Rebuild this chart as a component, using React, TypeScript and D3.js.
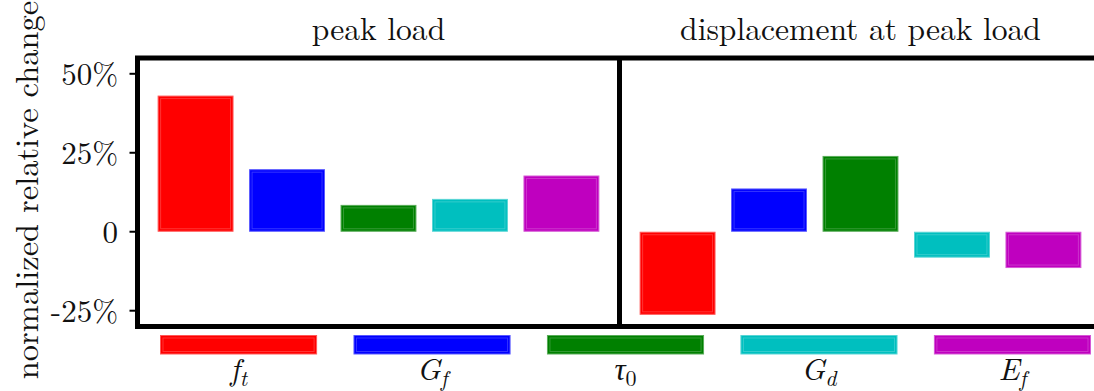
import { scaleBand, scaleLinear, color } from "d3";

const WIDTH = 1094;
const HEIGHT = 391;

// parameters varied in the study
const params = ["ft", "Gf", "tau0", "Gd", "Ef"];
const paramBase = ["f", "G", "τ", "G", "E"];
const paramSub = ["t", "f", "0", "d", "f"];
const paramColors = ["#ff0000", "#0000ff", "#008000", "#00bfbf", "#bf00bf"];

// normalized relative change in %
const peakLoad = [43.1, 19.8, 8.5, 10.4, 17.8];
const dispAtPeakLoad = [-26.3, 13.7, 24.0, -8.2, -11.5];

const panelTitles = ["peak load", "displacement at peak load"];

const yTicks = [-25, 0, 25, 50];
const yTickLabels = ["-25%", "0", "25%", "50%"];

const FONT = "Latin Modern Roman, Liberation Serif, serif";

const left = 137.5;
const mid = 619.5;
const right = 1101.5;
const top = 58;
const bottom = 326.5;

const yScale = scaleLinear().domain([-30, 55]).range([bottom, top]);

const panelRanges: [number, number][] = [
  [left, mid],
  [mid, right],
];
const panelValues = [peakLoad, dispAtPeakLoad];

const keyScale = scaleBand<string>()
  .domain(params)
  .range([160, 1091])
  .paddingInner(0.188)
  .paddingOuter(0);

const lighter = (c: string, k: number) => {
  const col = color(c)!.rgb();
  col.r = col.r + (255 - col.r) * k;
  col.g = col.g + (255 - col.g) * k;
  col.b = col.b + (255 - col.b) * k;
  return col.formatRgb();
};

const Bar = ({ x, y, w, h, fill }: { x: number; y: number; w: number; h: number; fill: string }) => (
  <g>
    <rect
      x={x + 0.5}
      y={y + 0.5}
      width={Math.max(0, w - 1)}
      height={Math.max(0, h - 1)}
      fill={fill}
      stroke={lighter(fill, 0.35)}
      strokeWidth={1}
    />
    {w > 8 && h > 8 && (
      <rect
        x={x + 3}
        y={y + 3}
        width={w - 6}
        height={h - 6}
        fill="none"
        stroke={lighter(fill, 0.2)}
        strokeWidth={1}
      />
    )}
  </g>
);

const App = () => {
  const textStyle = { fontFamily: FONT };

  return (
    <svg
      width={WIDTH}
      height={HEIGHT}
      style={{ position: "absolute", left: 0, top: 0, background: "#fff" }}
    >
      {panelRanges.map((range, pi) => {
        const xScale = scaleBand<string>()
          .domain(params)
          .range(range)
          .paddingInner(0.17)
          .paddingOuter(0.22);
        return (
          <g key={pi}>
            {params.map((k, i) => {
              const v = panelValues[pi][i];
              const y0 = yScale(Math.max(0, v));
              const y1 = yScale(Math.min(0, v));
              return (
                <Bar key={k} x={xScale(k)!} y={y0} w={xScale.bandwidth()} h={y1 - y0} fill={paramColors[i]} />
              );
            })}
            <text
              x={(range[0] + range[1]) / 2}
              y={40}
              textAnchor="middle"
              fontSize={31.6}
              fill="#111"
              style={textStyle}
            >
              {panelTitles[pi]}
            </text>
          </g>
        );
      })}

      {/* frame */}
      <g stroke="#000" strokeWidth={5}>
        <line x1={left - 2.5} x2={WIDTH + 10} y1={top} y2={top} />
        <line x1={left - 2.5} x2={WIDTH + 10} y1={bottom} y2={bottom} />
        <line x1={left} x2={left} y1={top} y2={bottom} />
        <line x1={mid} x2={mid} y1={top} y2={bottom} />
      </g>

      {/* y axis */}
      {yTicks.map((t, i) => (
        <g key={t}>
          <line x1={left - 8} x2={left} y1={yScale(t)} y2={yScale(t)} stroke="#000" strokeWidth={2} />
          <text
            x={118}
            y={yScale(t)}
            dy="0.35em"
            textAnchor="end"
            fontSize={31}
            fill="#111"
            style={textStyle}
          >
            {yTickLabels[i]}
          </text>
        </g>
      ))}
      <text
        transform="translate(38,190) rotate(-90)"
        textAnchor="middle"
        fontSize={32.5}
        fill="#111"
        style={textStyle}
      >
        normalized relative change
      </text>

      {/* colour key below the axes */}
      {params.map((k, i) => (
        <g key={k}>
          <Bar x={keyScale(k)!} y={335} w={keyScale.bandwidth()} h={19.5} fill={paramColors[i]} />
          <text
            x={keyScale(k)! + keyScale.bandwidth() / 2}
            y={380}
            textAnchor="middle"
            fontSize={31}
            fill="#111"
            style={textStyle}
          >
            <tspan fontStyle="italic">{paramBase[i]}</tspan>
            <tspan fontSize={22} dy={6} fontStyle={paramSub[i] === "0" ? "normal" : "italic"}>
              {paramSub[i]}
            </tspan>
          </text>
        </g>
      ))}
    </svg>
  );
};

export default App;
